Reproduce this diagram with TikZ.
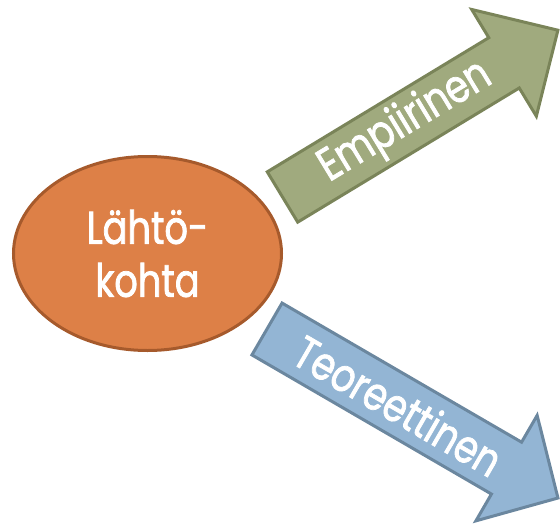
\documentclass[tikz,border=0pt]{standalone}
\usepackage{fontspec}
\setmainfont{Poppins}[FakeStretch=0.8, FakeBold=1.6]
\usepackage{tikz}
\usetikzlibrary{shapes.geometric}

\definecolor{startfill}{HTML}{DD8047}
\definecolor{startline}{HTML}{A65A2C}
\definecolor{empfill}{HTML}{A0AA7E}
\definecolor{empline}{HTML}{7A8459}
\definecolor{teofill}{HTML}{93B5D4}
\definecolor{teoline}{HTML}{6B879F}

\begin{document}
\begin{tikzpicture}[x=1pt, y=-1pt,
  labeltext/.style={text=white, font=\fontsize{46}{53}\selectfont},
  arrowbody/.style={line width=3pt, line join=miter}]

\useasboundingbox (0,0) rectangle (560,525);

%Starting point
\node[ellipse, draw=startline, fill=startfill, line width=3pt, minimum width=268pt, minimum height=194pt, inner sep=0pt, labeltext, align=center] (start) at (147.5,253.5) {Lähtö-\\kohta};

%Empirical arrow
\begin{scope}[shift={(282.5,197)}, rotate=31.2]
\draw[arrowbody, draw=empline, fill=empfill] (0,-29.4) -- (259,-29.4) -- (259,-62.4) -- (322,0) -- (259,62.4) -- (259,29.4) -- (0,29.4) -- cycle;
\node[labeltext, rotate=31.2] (emp) at (144,0) {Empiirinen};
\end{scope}

%Theoretical arrow
\begin{scope}[shift={(267,329)}, rotate=-30.15]
\draw[arrowbody, draw=teoline, fill=teofill] (0,-30) -- (277,-30) -- (277,-61) -- (336.5,0) -- (277,61) -- (277,30) -- (0,30) -- cycle;
\node[labeltext, rotate=-30.15] (teo) at (152,0) {Teoreettinen};
\end{scope}

\end{tikzpicture}
\end{document}
